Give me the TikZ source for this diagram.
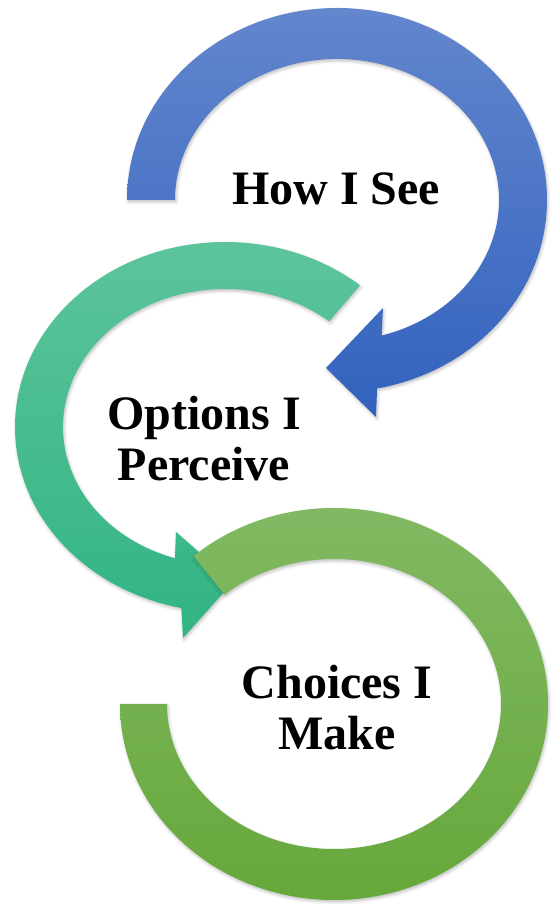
\documentclass[tikz,border=0pt]{standalone}
\usepackage{fontspec}
\setmainfont{Liberation Serif}
\usepackage{tikz}
\usetikzlibrary{shadows.blur}
\definecolor{seeTop}{HTML}{6386CD}
\definecolor{seeBot}{HTML}{3262BE}
\definecolor{optTop}{HTML}{5FC59C}
\definecolor{optBot}{HTML}{31B483}
\definecolor{makeTop}{HTML}{83BA65}
\definecolor{makeBot}{HTML}{65A739}

\begin{document}
\begin{tikzpicture}[x=1pt,y=1pt,
	every arc/.style={blur shadow={shadow xshift=1pt,shadow yshift=-2pt,shadow blur radius=3pt,shadow opacity=25}},
	seearc/.style={every arc,top color=seeTop,bottom color=seeBot},
	optarc/.style={every arc,top color=optTop,bottom color=optBot},
	makearc/.style={every arc,top color=makeTop,bottom color=makeBot},
	word/.style={font=\bfseries\fontsize{48}{51}\selectfont,align=center,inner sep=0pt}]
	 \useasboundingbox (0,0) rectangle (556,904);

	 % How I See
	 \begin{scope}[shift={(337,704)}]
	 \path[seearc] (180:210 and 192) arc[start angle=180,end angle=-79,x radius=210,y radius=192]
	 -- (39,-217) -- (-11,-168) -- (46,-108)
	 -- (-74:162 and 141) arc[start angle=-74,end angle=180,x radius=162,y radius=141] -- cycle;
	 \end{scope}

	 % Options I Perceive
	 \begin{scope}[shift={(225,477)}]
	 \path[optarc] (50:210 and 185) arc[start angle=50,end angle=258,x radius=210,y radius=185]
	 -- (-42,-211) -- (8,-155) -- (-49,-105)
	 -- (252:162 and 138) arc[start angle=252,end angle=50,x radius=162,y radius=138] -- cycle;
	 \end{scope}

	 % Choices I Make
	 \begin{scope}[shift={(334,200)}]
	 \path[makearc] (131:214 and 196) arc[start angle=131,end angle=-180,x radius=214,y radius=196]
	 -- (180:167 and 145) arc[start angle=-180,end angle=131,x radius=167,y radius=145] -- cycle;
	 \end{scope}

	 \node[word,anchor=base] (see) at (336,699) {How I See};
	 \node[word] (options) at (204,465.5) {Options I\\Perceive};
	 \node[word] (choices) at (337,196.5) {Choices I\\Make};
\end{tikzpicture}
\end{document}
